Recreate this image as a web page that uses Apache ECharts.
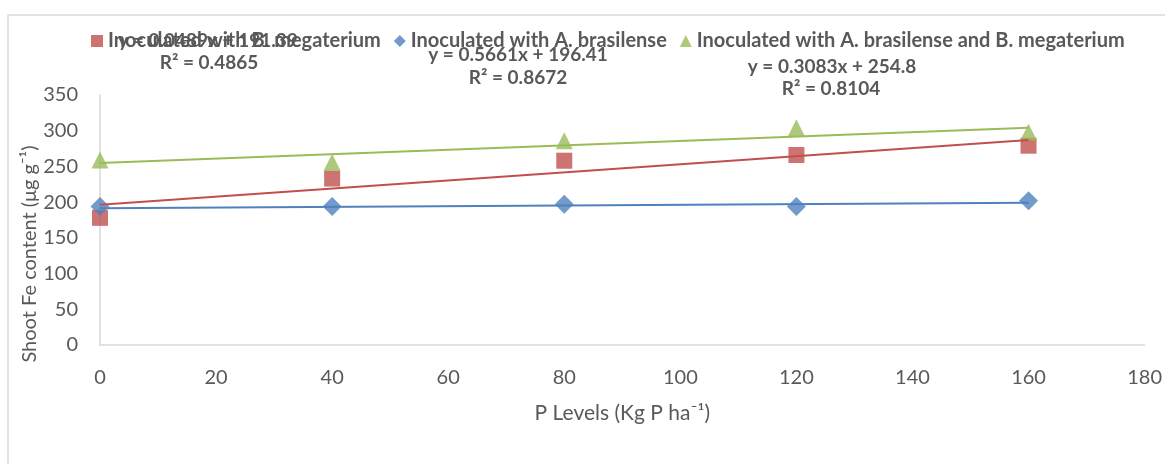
<!DOCTYPE html>
<html>
<head>
<meta charset="utf-8">
<script src="https://cdn.jsdelivr.net/npm/echarts@6/dist/echarts.min.js"></script>
<style>
html,body{margin:0;padding:0;background:#fff;}
#c{width:1165px;height:464px;}
</style>
</head>
<body>
<div id="c"></div>
<script>
// ---- data ----
const pLevels = [0, 40, 80, 120, 160];
const seriesNames = [
  'Inoculated with B. megaterium',
  'Inoculated with A. brasilense',
  'Inoculated with A. brasilense and B. megaterium'
];
const megaterium = [178, 233, 258, 266, 279];
const brasilense = [194, 194, 197, 194, 202];
const both = [259, 256, 286, 304, 298];
// trendline equations shown on chart (slope, intercept)
const trendSlopes = [0.5661, 0.0489, 0.3083];
const trendIntercepts = [196.41, 191.39, 254.8];
const trendR2 = ['0.8672', '0.4865', '0.8104'];
const xTicks = [0, 180, 20];
const yTicks = [0, 350, 50];

const colors = ['#C0504D', '#4F81BD', '#9BBB59'];
const symbols = ['rect', 'diamond', 'triangle'];
const symbolSizes = [16, 19, 17];
const values = [megaterium, brasilense, both];
const FONT = 'Lato';
const GREY = '#595959';

const chart = echarts.init(document.getElementById('c'), null, {renderer: 'canvas'});

const series = [];
values.forEach((v, i) => {
  series.push({
    name: seriesNames[i],
    type: 'scatter',
    data: pLevels.map((x, j) => [x, v[j]]),
    symbol: symbols[i],
    symbolSize: symbolSizes[i],
    itemStyle: {color: colors[i]},
    z: 2 + i
  });
});
values.forEach((v, i) => {
  const x0 = pLevels[0], x1 = pLevels[pLevels.length - 1];
  series.push({
    name: 'trend' + i,
    type: 'line',
    data: [[x0, trendIntercepts[i] + trendSlopes[i] * x0], [x1, trendIntercepts[i] + trendSlopes[i] * x1]],
    symbol: 'none',
    lineStyle: {color: colors[i], width: 2},
    silent: true,
    z: 10
  });
});

const annoStyle = {font: 'bold 19px ' + FONT, fill: GREY, align: 'center', verticalAlign: 'middle', textAlign: 'center', textVerticalAlign: 'middle'};
function eqText(i) {
  return 'y = ' + trendSlopes[i] + 'x + ' + trendIntercepts[i];
}

chart.setOption({
  animation: false,
  textStyle: {fontFamily: FONT},
  grid: {left: 100, right: 20, top: 95, bottom: 119, containLabel: false},
  legend: {
    data: seriesNames.map((n, i) => ({name: n, icon: symbols[i]})),
    left: 86, top: 26,
    itemWidth: 12, itemHeight: 12, itemGap: 13,
    textStyle: {fontFamily: FONT, fontWeight: 'bold', fontSize: 20, color: GREY}
  },
  xAxis: {
    type: 'value', min: xTicks[0], max: xTicks[1], interval: xTicks[2],
    axisLine: {show: true, lineStyle: {color: '#d9d9d9', width: 1.5}},
    axisTick: {show: false},
    splitLine: {show: false},
    axisLabel: {color: GREY, fontSize: 20, margin: 23, fontFamily: FONT},
    name: 'P Levels (Kg P ha⁻¹)',
    nameLocation: 'middle', nameGap: 58,
    nameTextStyle: {color: GREY, fontSize: 21, fontFamily: FONT}
  },
  yAxis: {
    type: 'value', min: yTicks[0], max: yTicks[1], interval: yTicks[2],
    axisLine: {show: true, lineStyle: {color: '#d9d9d9', width: 1.5}},
    axisTick: {show: false},
    splitLine: {show: false},
    axisLabel: {color: GREY, fontSize: 20, margin: 22, fontFamily: FONT}
  },
  graphic: [
    {type: 'rect', shape: {x: 8, y: 15, width: 1200, height: 500}, style: {fill: 'none', stroke: '#d9d9d9', lineWidth: 1.5}, z: -10, silent: true},
    {type: 'text', x: 30, y: 254, rotation: Math.PI / 2, style: {text: 'Shoot Fe content (μg g⁻¹)', font: '20px ' + FONT, fill: GREY, align: 'center', verticalAlign: 'middle', textAlign: 'center', textVerticalAlign: 'middle'}},
    {type: 'text', x: 208, y: 41, style: Object.assign({text: eqText(1)}, annoStyle), z: 100},
    {type: 'text', x: 209, y: 63, style: Object.assign({text: 'R² = ' + trendR2[1]}, annoStyle), z: 100},
    {type: 'text', x: 518, y: 55, style: Object.assign({text: eqText(0)}, annoStyle), z: 100},
    {type: 'text', x: 518, y: 78, style: Object.assign({text: 'R² = ' + trendR2[0]}, annoStyle), z: 100},
    {type: 'text', x: 832, y: 67, style: Object.assign({text: eqText(2)}, annoStyle), z: 100},
    {type: 'text', x: 831, y: 89, style: Object.assign({text: 'R² = ' + trendR2[2]}, annoStyle), z: 100}
  ],
  series: series
});
</script>
</body>
</html>
